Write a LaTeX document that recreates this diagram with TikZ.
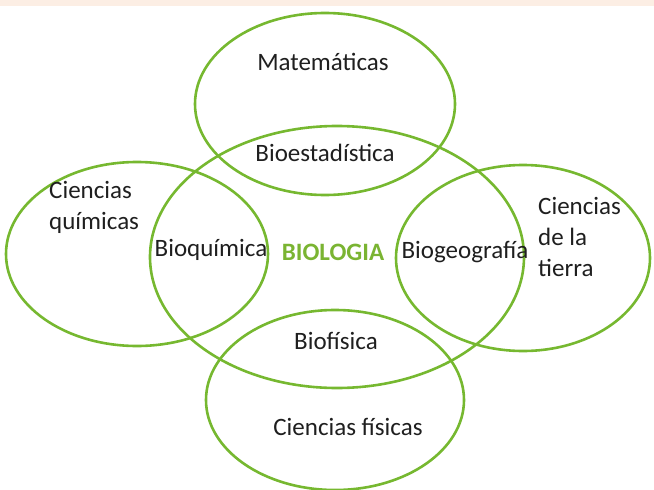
\documentclass[tikz,border=0pt]{standalone}
\usepackage{fontspec}
\setmainfont{Carlito}
\definecolor{ringgreen}{RGB}{118,184,48}
\definecolor{titlegreen}{RGB}{122,180,50}
\definecolor{bandpeach}{RGB}{252,238,228}

\begin{document}
\begin{tikzpicture}[x=1pt, y=-1pt,
  ring/.style={draw=ringgreen, line width=2.6pt},
  label/.style={font=\fontsize{25}{31}\selectfont, text=black!88, inner sep=0pt},
  side/.style={label, align=left, anchor=west}]
  \useasboundingbox (0,0) rectangle (654,490);
  \fill[bandpeach] (0,0) rectangle (654,6);

  % the five fields
  \draw[ring] (325,104) ellipse [x radius=130, y radius=91];
  \draw[ring] (337,257) ellipse [x radius=187, y radius=131];
  \draw[ring] (137,254) ellipse [x radius=131, y radius=92];
  \draw[ring] (523,258) ellipse [x radius=127, y radius=93];
  \draw[ring] (335,400) ellipse [x radius=129, y radius=90];

  \node[label] (mat) at (323,62) {Matemáticas};
  \node[label] (bioest) at (325,153) {Bioestadística};
  \node[side] (quim) at (49,207) {Ciencias\\químicas};
  \node[label] (bioq) at (211,250) {Bioquímica};
  \node[label, text=titlegreen, font=\fontsize{25}{31}\selectfont\bfseries] (bio) at (333,252) {BIOLOGIA};
  \node[label] (biogeo) at (465,252) {Biogeografía};
  \node[side] (tierra) at (538,237) {Ciencias\\de la\\tierra};
  \node[label] (biofis) at (336,341) {Biofísica};
  \node[label] (fis) at (348,427) {Ciencias físicas};
\end{tikzpicture}
\end{document}
